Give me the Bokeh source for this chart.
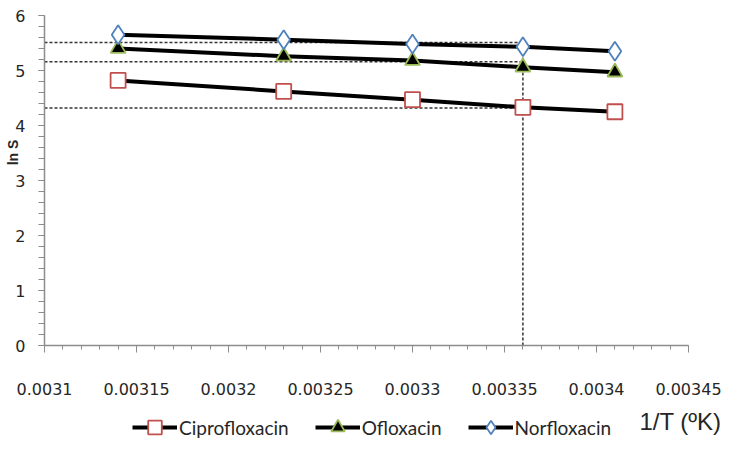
import numpy as np
from bokeh.plotting import figure
from bokeh.models import Range1d, FixedTicker, Legend, LegendItem, Label
from bokeh.embed import file_html
from bokeh.resources import INLINE

# ---- data ----
inv_T = [0.00314, 0.00323, 0.0033, 0.00336, 0.00341]
cipro = [4.82, 4.62, 4.47, 4.33, 4.25]
oflox = [5.40, 5.26, 5.18, 5.06, 4.97]
norflox = [5.65, 5.56, 5.48, 5.43, 5.35]

guide_x = 0.00336
guide_levels = [5.51, 5.16, 4.32]

x_ticks = [0.0031, 0.00315, 0.0032, 0.00325, 0.0033, 0.00335, 0.0034, 0.00345]
x_tick_labels = ["0.0031", "0.00315", "0.0032", "0.00325", "0.0033", "0.00335", "0.0034", "0.00345"]
y_ticks = [0, 1, 2, 3, 4, 5, 6]

x_title = "1/T (ºK)"
y_title = "ln S"

# ---- layout: the plotting area spans the canvas; axes are pinned at x=0.0031 / y=0 ----
W, H = 722, 439
ax_left, ax_right, ax_top, ax_bottom = 44, 688, 15, 345   # axis box in canvas px
x0, x1 = x_ticks[0], x_ticks[-1]
y0, y1 = y_ticks[0], y_ticks[-1]
xpp = (x1 - x0) / (ax_right - ax_left)
ypp = (y1 - y0) / (ax_bottom - ax_top)
xr = Range1d(x0 - ax_left * xpp, x1 + (W - ax_right) * xpp)
yr = Range1d(y0 - (H - ax_bottom) * ypp, y1 + ax_top * ypp)

p = figure(width=W, height=H, output_backend="svg", toolbar_location=None,
           x_range=xr, y_range=yr,
           min_border_left=0, min_border_right=0, min_border_top=0, min_border_bottom=0)
p.outline_line_color = None
p.grid.visible = False
p.background_fill_color = "white"

axis_col = "#8c8c8c"
tick_font = "DejaVu Sans"

xa = p.xaxis[0]
xa.fixed_location = y0
xa.bounds = (x0, x1)
xa.ticker = FixedTicker(ticks=x_ticks, minor_ticks=list(np.linspace(x0, x1, 36)))
xa.major_label_overrides = {t: l for t, l in zip(x_ticks, x_tick_labels)}
xa.axis_line_color = axis_col
xa.axis_line_width = 1.5
xa.major_tick_line_color = axis_col
xa.minor_tick_line_color = axis_col
xa.major_tick_in = 0
xa.major_tick_out = 7
xa.minor_tick_in = 0
xa.minor_tick_out = 4
xa.major_label_standoff = 30
xa.major_label_text_font = tick_font
xa.major_label_text_font_size = "16px"
xa.major_label_text_color = "#262626"

ya = p.yaxis[0]
ya.fixed_location = x0
ya.bounds = (y0, y1)
ya.ticker = FixedTicker(ticks=y_ticks, minor_ticks=list(np.linspace(y0, y1, 31)))
ya.axis_line_color = axis_col
ya.axis_line_width = 1.5
ya.major_tick_line_color = axis_col
ya.minor_tick_line_color = axis_col
ya.major_tick_in = 0
ya.major_tick_out = 6
ya.minor_tick_in = 0
ya.minor_tick_out = 6
ya.major_label_standoff = 13
ya.major_label_text_font = tick_font
ya.major_label_text_font_size = "16px"
ya.major_label_text_color = "#262626"

# guide (reading) lines
p.segment(x0=[x0] * len(guide_levels), y0=guide_levels,
          x1=[guide_x] * len(guide_levels), y1=guide_levels,
          line_color="#333333", line_width=1.5, line_dash="3 2")
p.segment(x0=[guide_x], y0=[y0], x1=[guide_x], y1=[norflox[3]],
          line_color="#333333", line_width=1.5, line_dash="3 2")

lw = 4
lc = p.line(inv_T, cipro, line_color="black", line_width=lw)
lo = p.line(inv_T, oflox, line_color="black", line_width=lw)
ln = p.line(inv_T, norflox, line_color="black", line_width=lw)

sc = p.scatter(inv_T, cipro, marker="square", size=15, fill_color="white",
               line_color="#C0504D", line_width=1.8)
so = p.scatter(inv_T, oflox, marker="triangle", size=15, fill_color="black",
               line_color="#9BBB59", line_width=1.8)
sn = p.scatter(inv_T, norflox, marker="diamond", size=19, fill_color="white",
               line_color="#4F81BD", line_width=1.8)

legend = Legend(items=[
    LegendItem(label="Ciprofloxacin", renderers=[lc, sc]),
    LegendItem(label="Ofloxacin", renderers=[lo, so]),
    LegendItem(label="Norfloxacin", renderers=[ln, sn]),
], orientation="horizontal", location=(132, -5))
legend.label_text_font = "Lato"
legend.label_text_font_size = "19px"
legend.label_text_color = "#262626"
legend.glyph_width = 45
legend.glyph_height = 34
legend.label_height = 34
legend.label_standoff = 2
legend.spacing = 26
legend.padding = 0
legend.margin = 0
legend.border_line_color = None
legend.background_fill_alpha = 0
p.add_layout(legend, "center")

p.add_layout(Label(x=x1 + 33 * xpp, y=y0 - 76 * ypp, text=x_title, text_align="right",
                   text_baseline="middle", text_font="Liberation Sans",
                   text_font_size="24px", text_color="#262626"))
p.add_layout(Label(x=x0 - 32 * xpp, y=y0 + 193 * ypp, text=y_title, angle=np.pi / 2,
                   text_align="center", text_baseline="middle",
                   text_font="Liberation Sans", text_font_style="bold",
                   text_font_size="14px", text_color="#262626"))

open("out.html", "w").write(file_html(p, INLINE))
